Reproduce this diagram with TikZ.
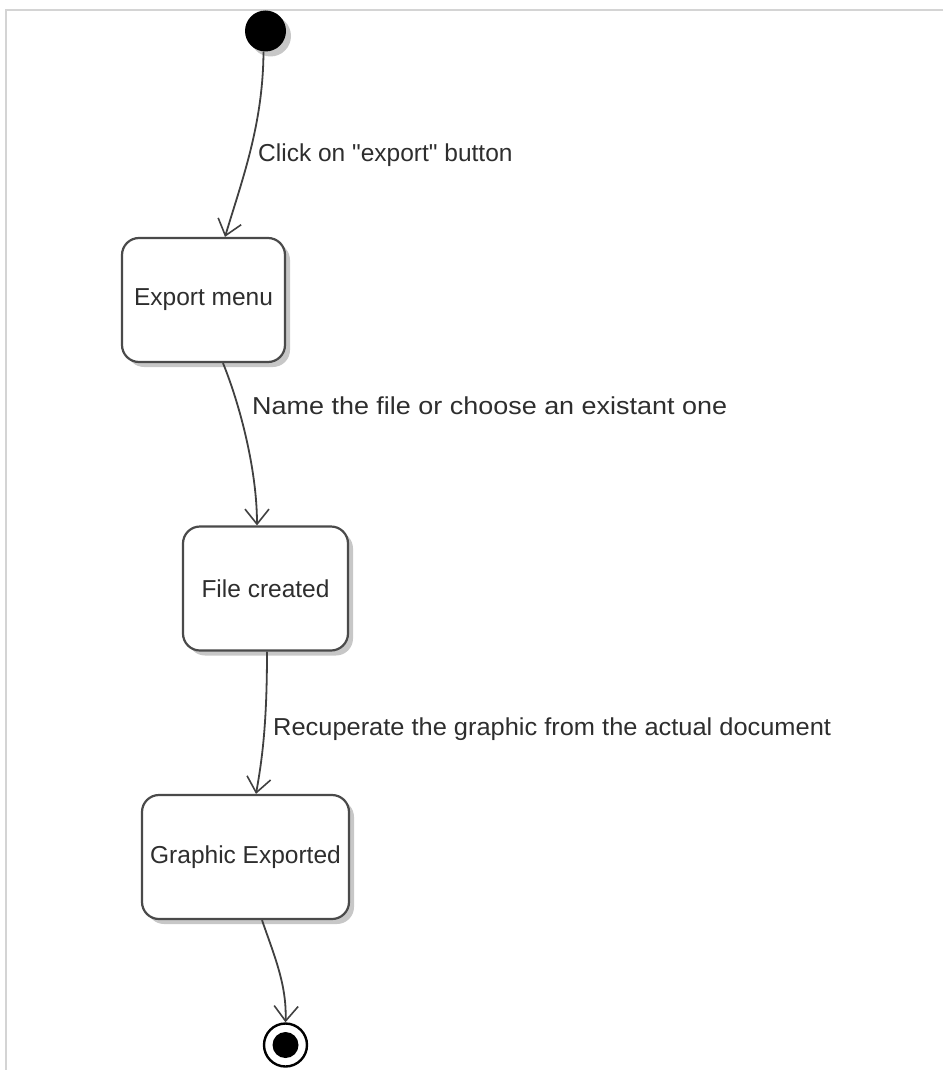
\documentclass[tikz,border=0pt]{standalone}
\usepackage{fontspec}
\usepackage{graphicx}
\setmainfont{Liberation Sans}
\usetikzlibrary{arrows.meta,shadows}
\definecolor{edgegray}{HTML}{404040}
\definecolor{boxline}{HTML}{4A4A4A}
\definecolor{txt}{HTML}{2E2E2E}
\definecolor{framegray}{HTML}{D4D4D4}
\tikzset{
  softshadow/.style={drop shadow={shadow xshift=5pt, shadow yshift=-5pt, fill=black, opacity=0.22}},
  statebox/.style={draw=boxline, line width=2.2pt, rounded corners=17pt, fill=white,
    inner sep=0pt, text=txt, font=\fontsize{24.5}{28}\selectfont, softshadow},
  initial/.style={circle, fill=black, minimum size=41pt, inner sep=0pt, softshadow},
  final/.style={circle, draw=black, line width=2.4pt, fill=white, minimum size=43pt, inner sep=0pt,
    path picture={\fill[black] (path picture bounding box.center) circle (13pt);}},
  flow/.style={draw=edgegray, line width=1.8pt,
    -{Straight Barb[length=15pt, width=24pt, line width=1.6pt]}},
  edgelabel/.style={anchor=west, text=txt, font=\fontsize{24.5}{28}\selectfont, inner sep=0pt}
}
\begin{document}
\begin{tikzpicture}[x=1pt, y=-1pt]
  \useasboundingbox (0,0) rectangle (943,1070);
  % light frame along the top and left edges
  \draw[framegray, line width=2pt] (943,10) -- (6,10) -- (6,1070);

  % states
  \node[initial] (start) at (265.5,31) {};
  \node[statebox, minimum width=163pt, minimum height=124pt] (menu) at (203.5,300) {Export menu};
  \node[statebox, minimum width=165pt, minimum height=124pt] (file) at (265.5,588.5) {File created};
  \node[statebox, minimum width=207pt, minimum height=124pt] (graph) at (245.5,857) {Graphic Exported};
  \node[final] (stop) at (285.5,1045) {};

  % transitions
  \draw[flow] ([xshift=-2pt]start.south) .. controls (263,125) and (242,180) .. ([xshift=21.5pt]menu.north);
  \draw[flow] ([xshift=19.5pt]menu.south) .. controls (240,405) and (257,470) .. ([xshift=-8.5pt]file.north);
  \draw[flow] ([xshift=1.5pt]file.south) .. controls (267,725) and (262,760) .. ([xshift=10.5pt]graph.north);
  \draw[flow] ([xshift=16.5pt]graph.south) .. controls (274,955) and (287,985) .. (stop.north);

  % transition labels
  \node[edgelabel] (l1) at (258,155) {Click on \textquotedbl export\textquotedbl{} button};
  \node[edgelabel] (l2) at (252,406) {\scalebox{1.1}[1]{Name the file or choose an existant one}};
  \node[edgelabel] (l3) at (273,729) {\scalebox{1.037}[1]{Recuperate the graphic from the actual document}};
\end{tikzpicture}
\end{document}
